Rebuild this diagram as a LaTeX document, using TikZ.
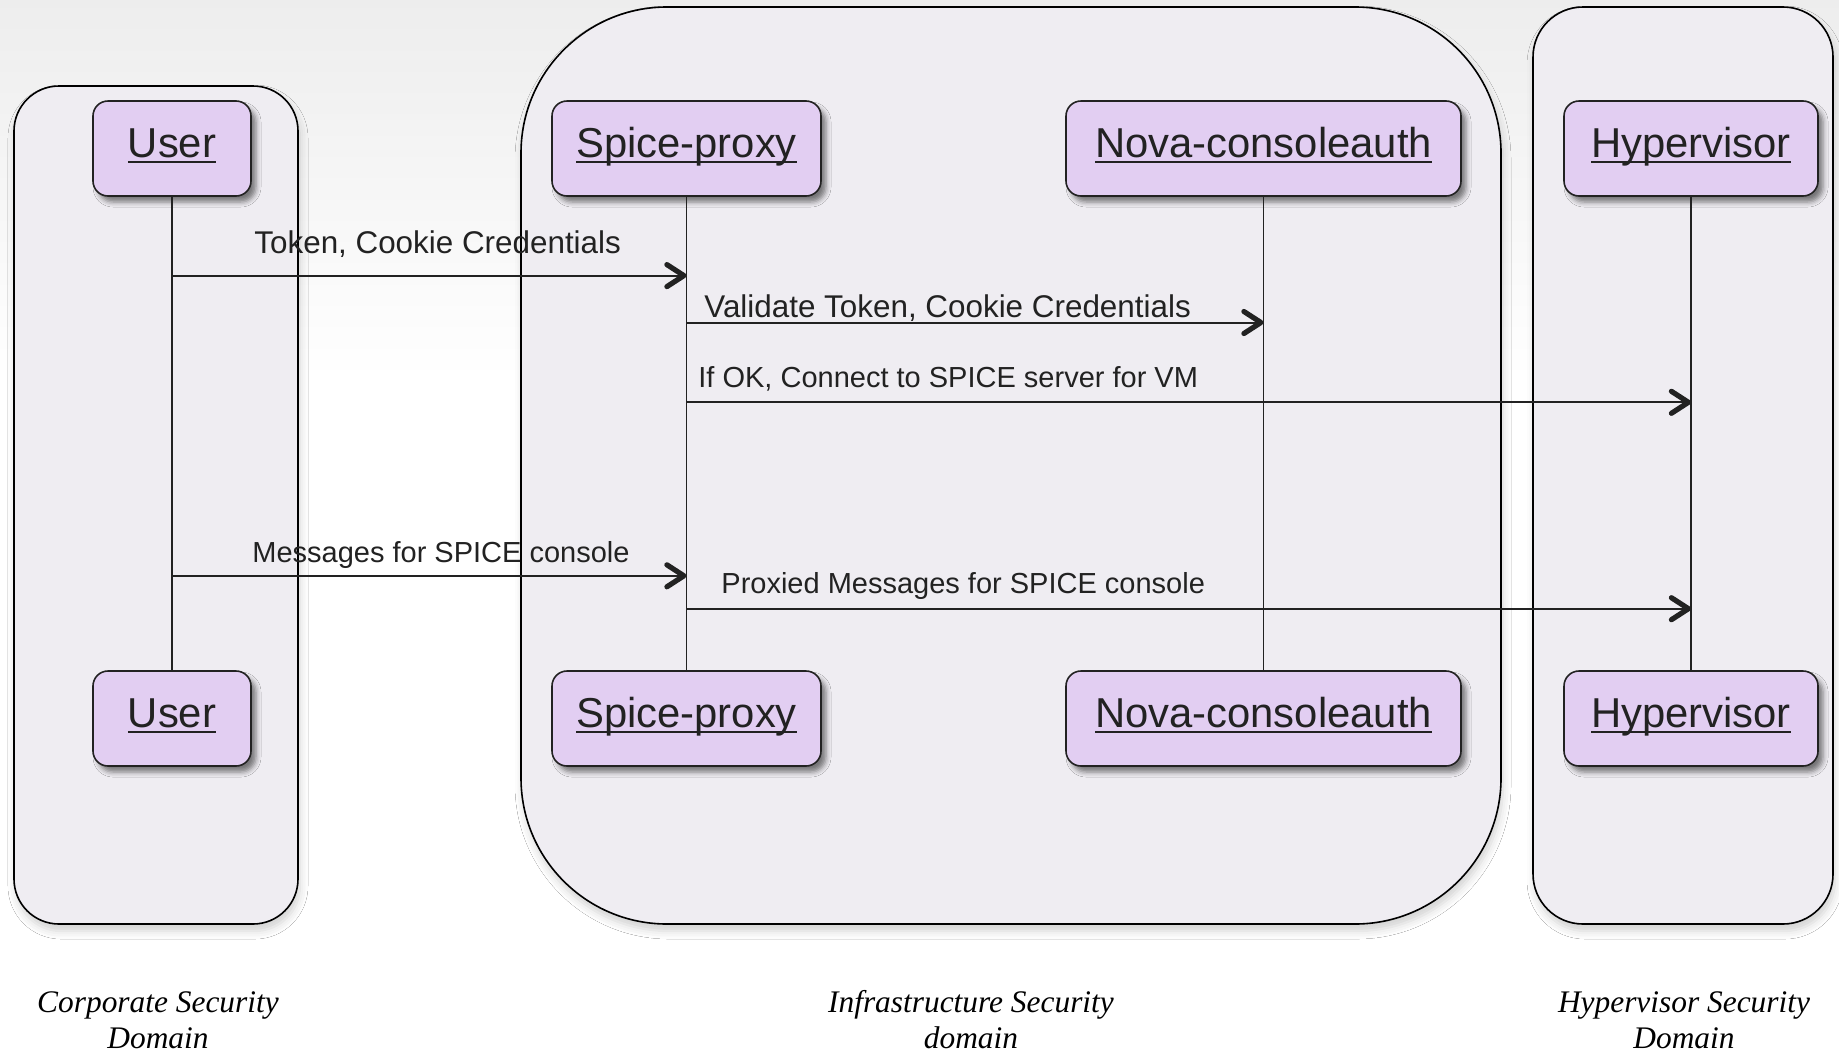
\documentclass[tikz,border=0pt]{standalone}
\usepackage{fontspec}
\setmainfont{Liberation Sans}
\newfontfamily\timesfam{Liberation Serif}
\usetikzlibrary{arrows.meta,shadows.blur}
\definecolor{domfill}{HTML}{EFEDF2}
\definecolor{actfill}{HTML}{E2CEF2}
\definecolor{ink}{HTML}{222222}
\newcommand\myul[1]{\setbox0\hbox{#1}\rlap{\vrule width \wd0 height -2pt depth 3pt}\box0}
\begin{document}
\begin{tikzpicture}[x=0.5pt,y=-0.5pt,
  secdom/.style={draw=black, line width=0.8pt, fill=domfill, inner sep=0pt,
    blur shadow={shadow xshift=1pt, shadow yshift=-3.5pt, shadow blur radius=4pt, shadow opacity=18}},
  actor/.style={draw=ink, line width=0.8pt, fill=actfill, rounded corners=7.5pt,
    minimum height=47.5pt, inner sep=0pt, text height=15pt, text depth=6.5pt,
    font=\fontsize{20.9pt}{24pt}\selectfont, text=ink,
    blur shadow={shadow xshift=2.5pt, shadow yshift=-3pt, shadow blur radius=2.5pt, shadow opacity=50}},
  life/.style={draw=ink, line width=0.75pt},
  msg/.style={draw=ink, line width=1pt, -{Straight Barb[length=8.5pt,width=11pt,line width=2.6pt,round]}},
  lblA/.style={anchor=base west, inner sep=0pt, text=ink, font=\fontsize{15.7pt}{18pt}\selectfont},
  lblB/.style={anchor=base west, inner sep=0pt, text=ink, font=\fontsize{14.5pt}{17pt}\selectfont},
  dlabel/.style={align=center, inner sep=0pt, text=black, font=\timesfam\itshape\fontsize{15.7pt}{18pt}\selectfont}]
\useasboundingbox (0,0) rectangle (1839,1055);
\fill[white] (0,0) rectangle (1839,1055);
\shade[top color=black!7, bottom color=white] (0,0) rectangle (1839,380);

% security domains
\node[secdom, rounded corners=22.5pt, minimum width=142pt, minimum height=419pt] (corp) at (156,505) {};
\node[secdom, rounded corners=73pt, minimum width=490pt, minimum height=458.5pt] (infra) at (1011,465.5) {};
\node[secdom, rounded corners=25pt, minimum width=150pt, minimum height=458.5pt] (hyperd) at (1683,465.5) {};

% actors (top)
\node[actor, minimum width=79pt] (u1) at (172,148.5) {\myul{User}};
\node[actor, minimum width=134.5pt] (sp1) at (686.5,148.5) {\myul{Spice-proxy}};
\node[actor, minimum width=197.5pt] (nc1) at (1263.5,148.5) {\myul{Nova-consoleauth}};
\node[actor, minimum width=127pt] (hv1) at (1691,148.5) {\myul{Hypervisor}};
% actors (bottom)
\node[actor, minimum width=79pt] (u2) at (172,718.5) {\myul{User}};
\node[actor, minimum width=134.5pt] (sp2) at (686.5,718.5) {\myul{Spice-proxy}};
\node[actor, minimum width=197.5pt] (nc2) at (1263.5,718.5) {\myul{Nova-consoleauth}};
\node[actor, minimum width=127pt] (hv2) at (1691,718.5) {\myul{Hypervisor}};

% lifelines
\draw[life] (u1.south) -- (u2.north);
\draw[life] (sp1.south) -- (sp2.north);
\draw[life] (nc1.south) -- (nc2.north);
\draw[life] (hv1.south) -- (hv2.north);

% message rows
\coordinate (y1) at (0,275.6);
\coordinate (y2) at (0,322.5);
\coordinate (y3) at (0,402.3);
\coordinate (y4) at (0,575.8);
\coordinate (y5) at (0,608.7);

\draw[msg] (u1 |- y1) -- (sp1 |- y1);
\draw[msg] (sp1 |- y2) -- (nc1 |- y2);
\draw[msg] (sp1 |- y3) -- (hv1 |- y3);
\draw[msg] (u1 |- y4) -- (sp1 |- y4);
\draw[msg] (sp1 |- y5) -- (hv1 |- y5);

\node[lblA] (l1) at (254,253) {Token, Cookie Credentials};
\node[lblA] (l2) at (704,317) {Validate Token, Cookie Credentials};
\node[lblB] (l3) at (698,387) {If OK, Connect to SPICE server for VM};
\node[lblB] (l4) at (252,562) {Messages for SPICE console};
\node[lblB] (l5) at (721,593) {Proxied Messages for SPICE console};

% domain captions
\node[dlabel] (d1) at (158,1020) {Corporate Security\\Domain};
\node[dlabel] (d2) at (971,1020) {Infrastructure Security\\domain};
\node[dlabel] (d3) at (1684,1020) {Hypervisor Security\\Domain};
\end{tikzpicture}
\end{document}
